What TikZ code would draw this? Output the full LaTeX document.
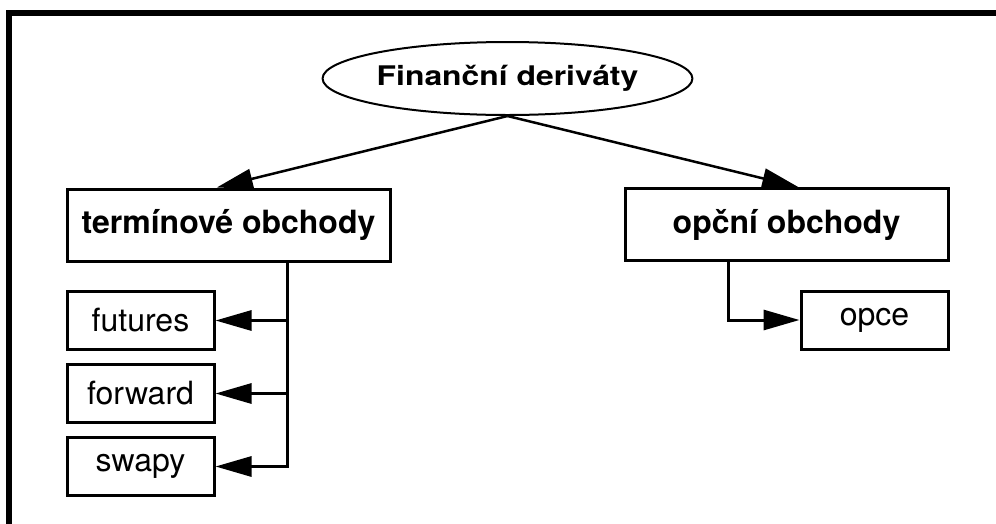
\documentclass[tikz,border=0pt]{standalone}
\usepackage{fontspec}
\usepackage{graphicx}
\setmainfont{TeX Gyre Heros}
\usetikzlibrary{shapes.geometric,arrows.meta,calc}

\tikzset{
  box/.style={draw, line width=3pt, rectangle, inner sep=0pt, align=center,
              font=\fontsize{32}{38}\selectfont},
  bigbox/.style={box, minimum width=323pt, minimum height=72pt,
                 font=\fontsize{32}{38}\selectfont\bfseries},
  leaf/.style={box, minimum width=147pt, minimum height=58pt},
  root/.style={draw, ellipse, line width=2pt, inner sep=0pt,
               minimum width=369pt, minimum height=73pt},
  link/.style={line width=3pt, -{Triangle[length=36pt,width=20pt]}},
  branch/.style={line width=2.5pt, -{Triangle[length=36pt,width=20pt]}},
  frame/.style={line width=6pt}
}

\begin{document}
\begin{tikzpicture}[x=1pt,y=-1pt]
  \useasboundingbox (0,0) rectangle (996,523);

  % frame along the top and left edges
  \draw[frame] (9,526) -- (9,13) -- (999,13);

  % root of the tree
  \node[root] (fd) at (507.5,78.5)
    {\fontsize{27}{32}\selectfont\bfseries\scalebox{1.18}[1]{Finanční deriváty}};

  % the two kinds of trades
  \node[bigbox] (tob) at (228.5,225) {termínové obchody};
  \node[bigbox] (opc) at (786.5,224.5) {opční obchody};

  % individual instruments
  \node[leaf] (fut) at (140.5,320.5) {futures};
  \node[leaf] (fwd) at (140.5,393.5) {forward};
  \node[leaf] (swa) at (140.5,466.5) {swapy};
  \node[leaf] (opce) at (874.5,320) {opce};

  % root to the two groups
  \draw[branch] (fd.south) -- ($(tob.north west)!0.464!(tob.north east)$);
  \draw[branch] (fd.south) -- ($(opc.north west)!0.536!(opc.north east)$);

  % forward contracts
  \coordinate (trunk) at ($(tob.south)+(58.5,0)$);
  \draw[link] (trunk) |- (swa.east);
  \draw[link] (trunk) |- (fwd.east);
  \draw[link] (trunk) |- (fut.east);

  % options
  \draw[link] ($(opc.south)+(-58.5,0)$) |- (opce.west);
\end{tikzpicture}
\end{document}
